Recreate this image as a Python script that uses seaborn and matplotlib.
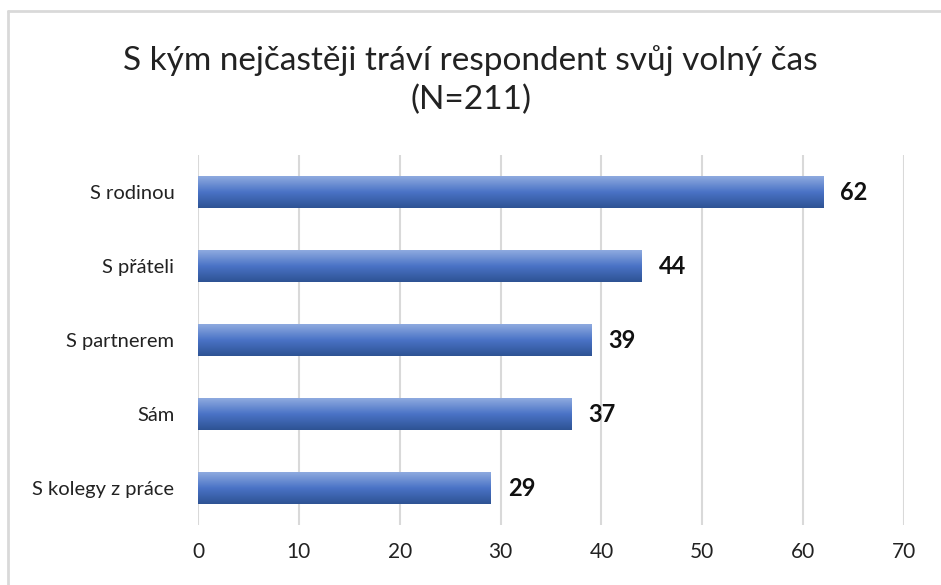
import matplotlib
matplotlib.use('Agg')
import matplotlib.pyplot as plt
import seaborn as sns
import numpy as np
import pandas as pd
from matplotlib.colors import LinearSegmentedColormap
from matplotlib.lines import Line2D

# Data
categories = ['S rodinou', 'S přáteli', 'S partnerem', 'Sám', 'S kolegy z práce']
counts = [62, 44, 39, 37, 29]
title = 'S kým nejčastěji tráví respondent svůj volný čas\n(N=211)'

sns.set_style('white')
plt.rcParams['font.family'] = ['Lato', 'DejaVu Sans']

df = pd.DataFrame({'category': categories, 'count': counts})

fig = plt.figure(figsize=(9.41, 5.85), dpi=100)
ax = fig.add_axes([198 / 941, 1 - 525 / 585, 706 / 941, 370 / 585])

sns.barplot(data=df, y='category', x='count', orient='h', width=0.42,
            color='#4472c4', ax=ax)

# Gradient fill on each bar (light top, dark bottom)
grad = LinearSegmentedColormap.from_list('bar', ['#8eaadf', '#4a73c6', '#2e5394'])
g = np.linspace(0, 1, 64).reshape(-1, 1)
for p in ax.patches:
    x0, y0 = p.get_x(), p.get_y()
    w, h = p.get_width(), p.get_height()
    # y axis is inverted: y0 is top visually
    ax.imshow(g, cmap=grad, aspect='auto', origin='upper',
              extent=(x0, x0 + w, y0 + h, y0), zorder=3)
    p.set_visible(False)

ax.set_xlim(0, 70)
ax.set_ylim(4.5, -0.5)
ax.set_xticks(range(0, 71, 10))
ax.grid(axis='x', color='#d9d9d9', linewidth=1.5)
ax.set_axisbelow(True)
for s in ax.spines.values():
    s.set_visible(False)
ax.tick_params(axis='y', length=0, labelsize=14.5, colors='#222222', pad=17)
ax.tick_params(axis='x', length=0, labelsize=15, colors='#222222', pad=12)
ax.set_xlabel('')
ax.set_ylabel('')

for i, v in enumerate(counts):
    ax.text(v + 1.7, i, str(v), va='center', ha='left', fontsize=17,
            fontweight='bold', color='#111111', zorder=4)

fig.text(0.5, 1 - 80 / 585, title, ha='center', va='center', fontsize=24,
         color='#222222', linespacing=1.35)

# Chart area border (top and left edges visible)
fig.add_artist(Line2D([8 / 941, 1], [1 - 11 / 585, 1 - 11 / 585],
                      transform=fig.transFigure, color='#d9d9d9', linewidth=2))
fig.add_artist(Line2D([8 / 941, 8 / 941], [1 - 11 / 585, 0],
                      transform=fig.transFigure, color='#d9d9d9', linewidth=2))

fig.savefig('out.png', dpi=100)
